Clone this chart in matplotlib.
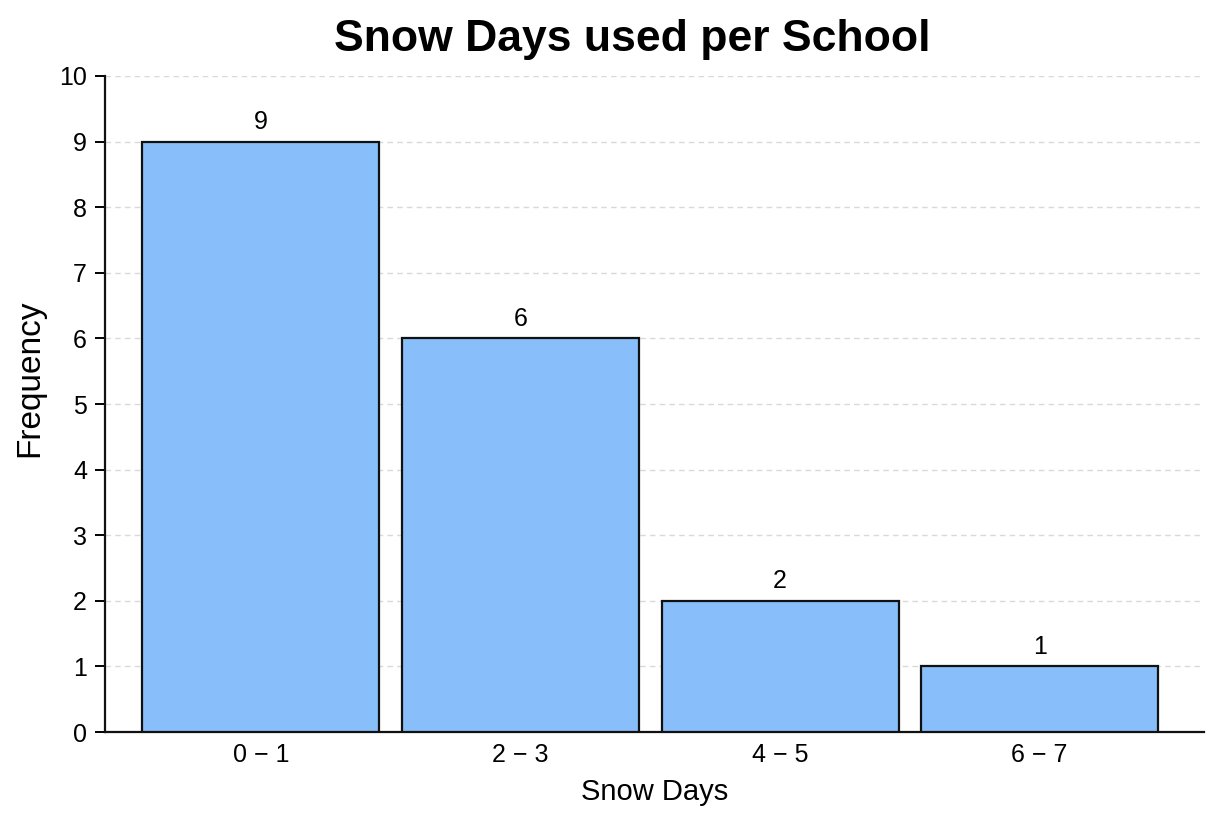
import matplotlib
matplotlib.use("Agg")
import matplotlib.pyplot as plt

categories = ["0 \u2212 1", "2 \u2212 3", "4 \u2212 5", "6 \u2212 7"]
frequencies = [9, 6, 2, 1]
yticks = list(range(0, 11))

plt.rcParams['font.family'] = ['Liberation Sans', 'DejaVu Sans']

fig = plt.figure(figsize=(12.24, 8.16), dpi=100)
ax = fig.add_axes([105/1224, 1-732/816, (1204-105)/1224, (732-76)/816])

x = list(range(len(categories)))
bars = ax.bar(x, frequencies, width=0.913, color="#88BFFA", edgecolor="#111111",
              linewidth=1.6, zorder=3)
for xi, v in zip(x, frequencies):
    ax.text(xi, v + 0.12, str(v), ha="center", va="bottom", fontsize=18, zorder=4)

ax.set_xlim(-0.6, 3.633)
ax.set_ylim(0, 10)
ax.set_yticks(yticks)
ax.set_xticks(x)
ax.set_xticklabels(categories)
ax.tick_params(axis="y", labelsize=18, length=7, width=1.4, direction="out", pad=6)
ax.tick_params(axis="x", labelsize=18, length=0, pad=8)
ax.yaxis.grid(True, linestyle=(0, (4, 3)), color="#d9d9d9", linewidth=1.0, zorder=0)
ax.set_axisbelow(True)
for s in ["top", "right"]:
    ax.spines[s].set_visible(False)
for s in ["left", "bottom"]:
    ax.spines[s].set_linewidth(1.6)
    ax.spines[s].set_color("#111111")

ax.set_xlabel("Snow Days", fontsize=21, labelpad=8)
ax.set_ylabel("Frequency", fontsize=24, labelpad=10)
ax.yaxis.set_label_coords(-0.054, 0.54)
fig.text(632/1224, 1-40/816, "Snow Days used per School", ha="center", va="center",
         fontsize=32, fontweight="bold")

fig.savefig("out.png", dpi=100)
